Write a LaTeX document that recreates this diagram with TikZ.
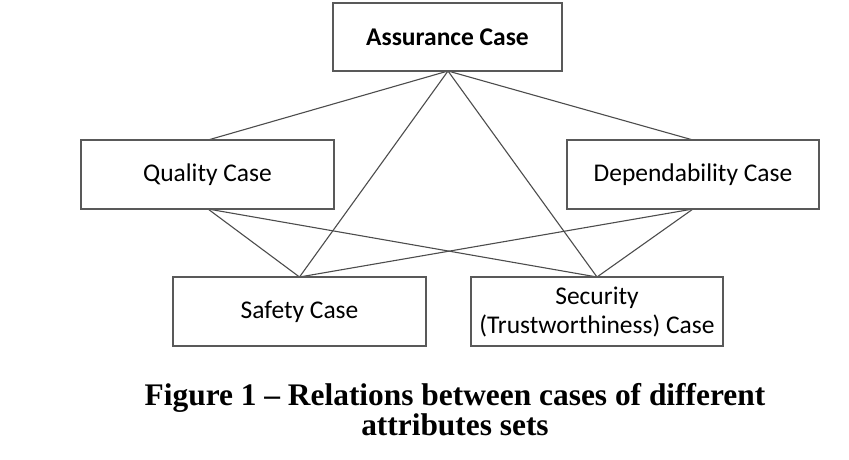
\documentclass[tikz,border=0pt]{standalone}
\usepackage{fontspec}
\setmainfont{Liberation Serif}
\newfontfamily\boxfont{Carlito}
\begin{document}
\begin{tikzpicture}[x=1pt,y=-1pt,
  casebox/.style={draw=black!65, line width=1.6pt, fill=white, inner sep=0pt,
    font=\boxfont\fontsize{25.5}{29}\selectfont, text=black, align=center},
  link/.style={draw=black!70, line width=1.1pt},
  caption/.style={font=\bfseries\fontsize{31.4}{31}\selectfont, align=center, inner sep=0pt}]
\useasboundingbox (0,0) rectangle (849,459);
\draw[link] (448,71) coordinate (aB) -- (208,140);
\draw[link] (aB) -- (693,140);
\draw[link] (aB) -- (299.5,277);
\draw[link] (aB) -- (597,277);
\draw[link] (208,209) -- (299.5,277);
\draw[link] (208,209) -- (597,277);
\draw[link] (693,209) -- (299.5,277);
\draw[link] (693,209) -- (597,277);
\node[casebox, minimum width=229pt, minimum height=68pt, font=\boxfont\bfseries\fontsize{25.5}{29}\selectfont] (assurance) at (447.5,37) {Assurance Case};
\node[casebox, minimum width=253pt, minimum height=69pt] (quality) at (207.5,174.5) {Quality Case};
\node[casebox, minimum width=252pt, minimum height=69pt] (depend) at (693,174.5) {Dependability Case};
\node[casebox, minimum width=253pt, minimum height=69pt] (safety) at (299.5,311.5) {Safety Case};
\node[casebox, minimum width=252pt, minimum height=69pt] (security) at (597,311.5) {Security\\(Trustworthiness) Case};
\node[caption] (cap) at (455,410) {Figure 1 -- Relations between cases of different\\[-1pt]attributes sets};
\end{tikzpicture}
\end{document}
